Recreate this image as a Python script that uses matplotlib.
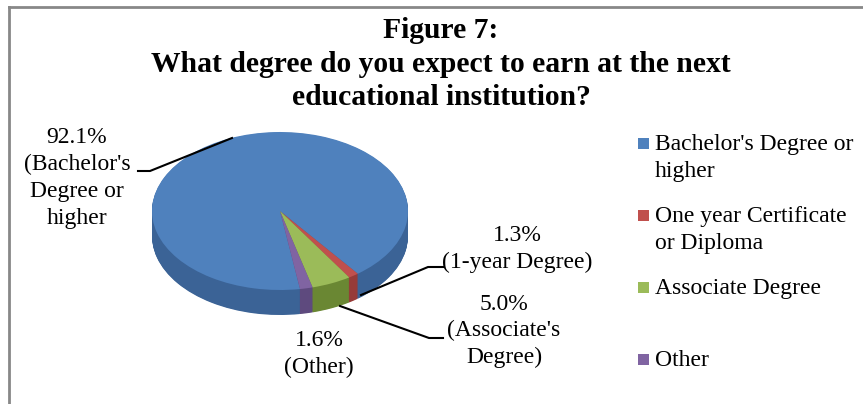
import matplotlib
matplotlib.use("Agg")
import matplotlib.pyplot as plt
from matplotlib.patches import Rectangle
from matplotlib.lines import Line2D
import numpy as np

plt.rcParams['font.family'] = ['Liberation Serif', 'DejaVu Serif']

# ---- data ----
categories = ["Bachelor's Degree or\nhigher", "One year Certificate\nor Diploma",
              "Associate Degree", "Other"]
values = [92.1, 1.3, 5.0, 1.6]
data_labels = ["92.1%\n(Bachelor's\nDegree or\nhigher", "1.3%\n(1-year Degree)",
               "5.0%\n(Associate's\nDegree)", "1.6%\n(Other)"]
title = "Figure 7:\nWhat degree do you expect to earn at the next\neducational institution?"

top_colors = ["#4F81BD", "#C0504D", "#9BBB59", "#8064A2"]
side_colors = ["#3B6396", "#963B38", "#6A8733", "#5E4A7E"]

W, H = 863, 404
fig = plt.figure(figsize=(W / 100, H / 100), dpi=100)

def fx(px):
    return px / W

def fy(py):
    return 1 - py / H

# border (chart area frame)
fig.add_artist(Line2D([fx(9), fx(9)], [fy(7), fy(410)], color="#888888", lw=2,
                      transform=fig.transFigure))
fig.add_artist(Line2D([fx(9), fx(870)], [fy(7), fy(7)], color="#888888", lw=2,
                      transform=fig.transFigure))

# title
fig.text(fx(441), fy(64), title, ha="center", va="center", fontsize=21.3,
         fontweight="bold", linespacing=1.33)

# ---- 3D pie ----
cx, cy = 280, 211       # pixel centre of top face
rx, ry = 128, 79        # pixel radii
depth = 25              # pixel thickness
xr = (-1.1, 1.1)
yr = (-1.6, 1.1)
ax_w = rx * (xr[1] - xr[0])
ax_h = ry * (yr[1] - yr[0])
left = cx - rx * (0 - xr[0])
top = cy - ry * (yr[1] - 0)
ax = fig.add_axes([fx(left), fy(top + ax_h), ax_w / W, ax_h / H])

start = -81
d = depth / ry
for k in np.linspace(d, 0.0, 40, endpoint=False):
    ax.pie(values, colors=side_colors, startangle=start, counterclock=False,
           center=(0, -k), radius=1.0, wedgeprops=dict(linewidth=0, antialiased=True))
ax.pie(values, colors=top_colors, startangle=start, counterclock=False,
       center=(0, 0), radius=1.0, wedgeprops=dict(linewidth=0))
ax.set_aspect("auto")
ax.set_xlim(*xr)
ax.set_ylim(*yr)
ax.axis("off")

# ---- data labels ----
lab_fs = 17
ls = 1.36
fig.text(fx(77), fy(178), data_labels[0], ha="center", va="center", fontsize=lab_fs,
         linespacing=ls)
fig.text(fx(517), fy(249), data_labels[1], ha="center", va="center", fontsize=lab_fs,
         linespacing=ls)
fig.text(fx(504), fy(331), data_labels[2], ha="center", va="center", fontsize=lab_fs,
         linespacing=ls)
fig.text(fx(319), fy(354), data_labels[3], ha="center", va="center", fontsize=lab_fs,
         linespacing=ls)

# leader lines
def leader(pts):
    xs = [fx(p[0]) for p in pts]
    ys = [fy(p[1]) for p in pts]
    fig.add_artist(Line2D(xs, ys, color="black", lw=1.5, transform=fig.transFigure))

leader([(138, 171), (150, 171), (232, 138)])
leader([(443, 267), (428, 267), (361, 295)])
leader([(443, 338), (429, 338), (340, 306)])

# ---- legend ----
leg_y = [143, 215, 287, 359]
for i, (lab, col) in enumerate(zip(categories, top_colors)):
    y = leg_y[i]
    fig.add_artist(Rectangle((fx(638), fy(y + 5.5)), 11 / W, 11 / H, facecolor=col,
                             edgecolor="none", transform=fig.transFigure))
    fig.text(fx(655), fy(y - 9), lab, ha="left", va="top", fontsize=lab_fs,
             linespacing=ls)

fig.savefig("out.png", dpi=100)
